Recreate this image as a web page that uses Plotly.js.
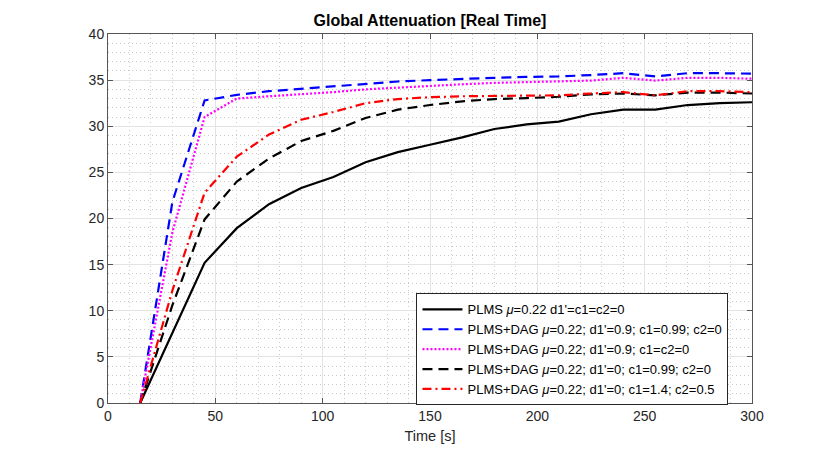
<!DOCTYPE html>
<html>
<head>
<meta charset="utf-8">
<script src="https://cdn.plot.ly/plotly-3.0.1.min.js"></script>
<style>html,body{margin:0;padding:0;background:#fff;}#chart{width:830px;height:453px;}</style>
</head>
<body>
<div id="chart"></div>
<script>
const time = [15,30,45,60,75,90,105,120,135,150,165,180,195,210,225,240,255,270,285,300];
const plms = [0,7.6,15.2,18.95,21.55,23.3,24.5,26.1,27.2,28.0,28.8,29.7,30.2,30.5,31.3,31.8,31.8,32.3,32.5,32.6];
const dagBlue = [0,21.8,32.8,33.4,33.8,34.05,34.35,34.6,34.85,35.0,35.15,35.25,35.35,35.4,35.55,35.75,35.4,35.75,35.75,35.7];
const dagMagenta = [0,18.5,31.0,33.0,33.25,33.45,33.7,34.0,34.2,34.4,34.55,34.7,34.8,34.9,34.95,35.25,34.95,35.25,35.25,35.15];
const dagBlackDash = [0,10.6,19.9,24.0,26.5,28.4,29.5,30.9,31.8,32.3,32.7,32.95,33.05,33.2,33.45,33.55,33.35,33.65,33.65,33.55];
const dagRed = [0,12.2,22.8,26.7,29.1,30.7,31.55,32.5,32.95,33.15,33.25,33.3,33.3,33.35,33.55,33.7,33.35,33.8,33.8,33.7];
const names = [
  "PLMS <i>μ</i>=0.22 d1'=c1=c2=0",
  "PLMS+DAG <i>μ</i>=0.22; d1'=0.9; c1=0.99; c2=0",
  "PLMS+DAG <i>μ</i>=0.22; d1'=0.9; c1=c2=0",
  "PLMS+DAG <i>μ</i>=0.22; d1'=0; c1=0.99; c2=0",
  "PLMS+DAG <i>μ</i>=0.22; d1'=0; c1=1.4; c2=0.5"
];
const xTicks = [0,50,100,150,200,250,300];
const yTicks = [0,5,10,15,20,25,30,35,40];

const series = [plms, dagBlue, dagMagenta, dagBlackDash, dagRed];
const styles = [
  {color:'#000000', dash:'solid'},
  {color:'#0000ff', dash:'10px,6px'},
  {color:'#ff00ff', dash:'2px,2px'},
  {color:'#000000', dash:'10px,6px'},
  {color:'#ff0000', dash:'9px,4px,2px,4px'}
];
const traces = series.map((s,i)=>({
  x: time, y: s, type:'scatter', mode:'lines', name: names[i],
  line:{color:styles[i].color, width:2.2, dash:styles[i].dash}
}));

const font = {family:'"Liberation Sans", Arial, Helvetica, sans-serif', color:'#262626'};
const axisCommon = {
  showline:true, linecolor:'#555', linewidth:1, mirror:'ticks',
  ticks:'inside', ticklen:5, tickcolor:'#555', tickwidth:1,
  showgrid:true, gridcolor:'#e3e3e3', gridwidth:1,
  zeroline:false, tickfont:{...font, size:14},
};
const layout = {
  width:830, height:453,
  margin:{l:108, r:78, t:34, b:50, pad:0},
  paper_bgcolor:'#ffffff', plot_bgcolor:'#ffffff',
  font: font,
  title:{text:'<b>Global Attenuation [Real Time]</b>', font:{...font, size:16, color:'#000'}, x:0.518, xanchor:'center', y:0.955, yanchor:'middle'},
  xaxis:{...axisCommon, range:[0,300], tickvals:xTicks, ticktext:xTicks.map(String),
    minor:{dtick:10, showgrid:true, gridcolor:'#c8c8c8', griddash:'1px,3px', gridwidth:1},
    title:{text:'Time [s]', font:{...font, size:14.5}, standoff:8}},
  yaxis:{...axisCommon, range:[0,40], tickvals:yTicks, ticktext:yTicks.map(String),
    minor:{dtick:1, showgrid:true, gridcolor:'#c8c8c8', griddash:'1px,3px', gridwidth:1}},
  showlegend:true,
  legend:{x:0.479, y:0.297, xanchor:'left', yanchor:'top', bgcolor:'#ffffff',
    bordercolor:'#262626', borderwidth:1, font:{...font, size:13, color:'#000'},
    itemwidth:40, tracegroupgap:0}
};
Plotly.newPlot('chart', traces, layout, {displayModeBar:false, staticPlot:true});
</script>
</body>
</html>
